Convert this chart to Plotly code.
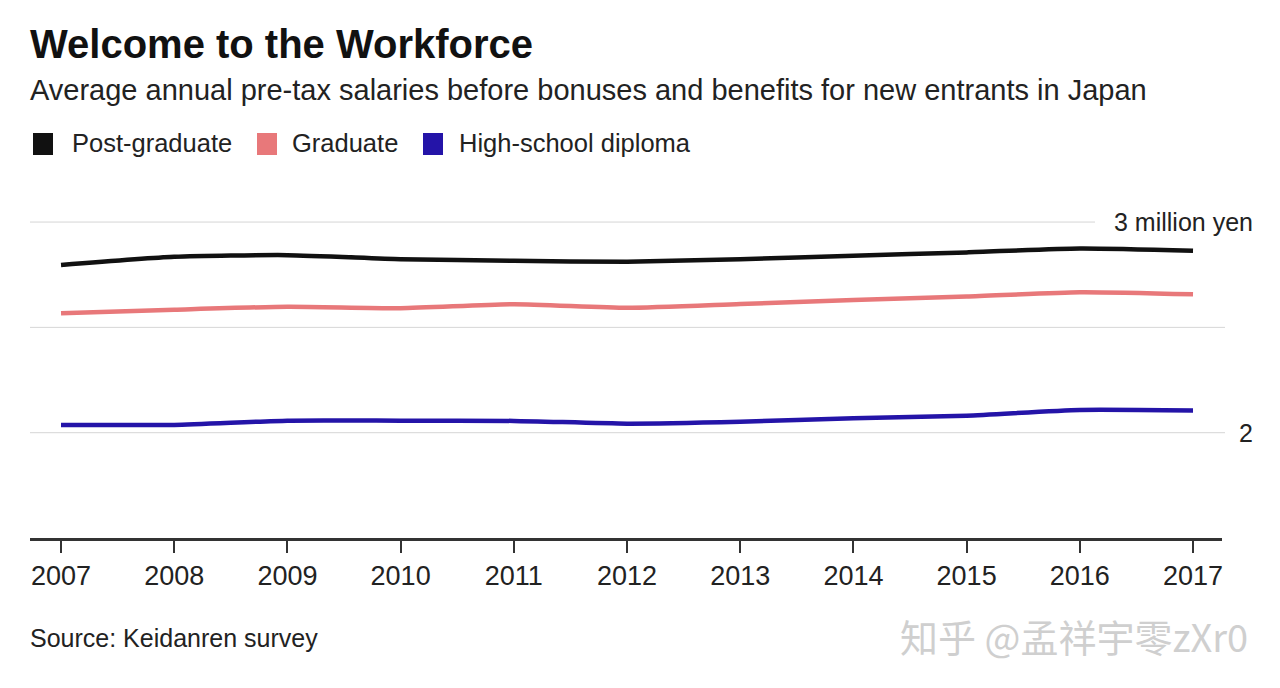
import plotly.graph_objects as go

years = [2007, 2008, 2009, 2010, 2011, 2012, 2013, 2014, 2015, 2016, 2017]

# million yen
post_graduate = [2.796, 2.835, 2.843, 2.824, 2.816, 2.812, 2.824, 2.840, 2.856, 2.875, 2.864]
graduate = [2.567, 2.584, 2.598, 2.591, 2.610, 2.593, 2.611, 2.630, 2.646, 2.667, 2.657]
high_school = [2.037, 2.037, 2.057, 2.057, 2.056, 2.043, 2.052, 2.068, 2.081, 2.108, 2.105]

series_names = ["Post-graduate", "Graduate", "High-school diploma"]
series_values = [post_graduate, graduate, high_school]
series_colors = ["#111111", "#e8787a", "#2414a8"]

grid_values = [2.0, 2.5, 3.0]
y_labels = {3.0: "3 million yen", 2.0: "2"}

FONT = "Liberation Sans, Arial, Helvetica, sans-serif"
W, H = 1280, 688
OFF = 8  # page body margin shifts the figure by this much
L, R, T, B = 30 - OFF, W - 1222 + OFF, 201 - OFF, H - 538 + OFF
PW, PH = W - L - R, H - T - B


def px_x(px):
    # window pixel -> paper x
    return (px - OFF - L) / PW


def px_y(py):
    # window pixel -> paper y
    return (H - B - (py - OFF)) / PH


fig = go.Figure()
for name, vals, color in zip(series_names, series_values, series_colors):
    fig.add_trace(go.Scatter(
        x=years, y=vals, mode="lines", name=name, showlegend=False,
        line=dict(color=color, width=4.5, shape="spline", smoothing=0.6),
    ))

shapes = []
for g in grid_values:
    x1 = px_x(1095) if g == 3.0 else px_x(1225)
    shapes.append(dict(type="line", xref="paper", yref="y", x0=0, x1=x1, y0=g, y1=g,
                       line=dict(color="#d6d6d6", width=1), layer="below"))

annotations = [
    dict(text="<b>Welcome to the Workforce</b>", x=px_x(28), y=px_y(44), xref="paper", yref="paper",
         xanchor="left", yanchor="middle", showarrow=False, font=dict(size=40, color="#111", family=FONT)),
    dict(text="Average annual pre-tax salaries before bonuses and benefits for new entrants in Japan",
         x=px_x(28), y=px_y(90), xref="paper", yref="paper", xanchor="left", yanchor="middle",
         showarrow=False, font=dict(size=29, color="#222", family=FONT)),
    dict(text="Source: Keidanren survey", x=px_x(28), y=px_y(638), xref="paper", yref="paper",
         xanchor="left", yanchor="middle", showarrow=False, font=dict(size=25, color="#222", family=FONT)),
    dict(text="知乎 @孟祥宇零zXr0", x=px_x(1250), y=px_y(635), xref="paper", yref="paper",
         xanchor="right", yanchor="middle", showarrow=False,
         font=dict(size=38, color="#cfcfcf", family="Noto Sans CJK SC, sans-serif")),
]

for val, label in y_labels.items():
    annotations.append(dict(text=label, x=px_x(1255), y=val, xref="paper", yref="y",
                            xanchor="right", yanchor="middle", showarrow=False,
                            font=dict(size=25, color="#222", family=FONT)))

# legend built by hand: square swatch + label
legend_sq = [33, 257, 423]
legend_tx = [72, 292, 459]
for name, color, sq, tx in zip(series_names, series_colors, legend_sq, legend_tx):
    shapes.append(dict(type="rect", xref="paper", yref="paper", x0=px_x(sq), x1=px_x(sq + 20),
                       y0=px_y(155), y1=px_y(133), fillcolor=color, line=dict(width=0)))
    annotations.append(dict(text=name, x=px_x(tx - 2), y=px_y(143), xref="paper", yref="paper",
                            xanchor="left", yanchor="middle", showarrow=False,
                            font=dict(size=25.5, color="#222", family=FONT)))

fig.update_layout(
    width=W, height=H, paper_bgcolor="white", plot_bgcolor="white",
    margin=dict(l=L, r=R, t=T, b=B),
    showlegend=False,
    xaxis=dict(range=[2006.726, 2017.256], tickvals=years, ticks="outside", ticklen=12,
               tickwidth=1.5, tickcolor="#333", showline=True, linecolor="#333", linewidth=2.5,
               showgrid=False, zeroline=False, fixedrange=True,
               tickfont=dict(size=27, color="#222", family=FONT)),
    yaxis=dict(range=[1.5, 3.1], showgrid=False, zeroline=False, showticklabels=False,
               fixedrange=True),
    shapes=shapes, annotations=annotations,
)

fig.write_html("out.html")
